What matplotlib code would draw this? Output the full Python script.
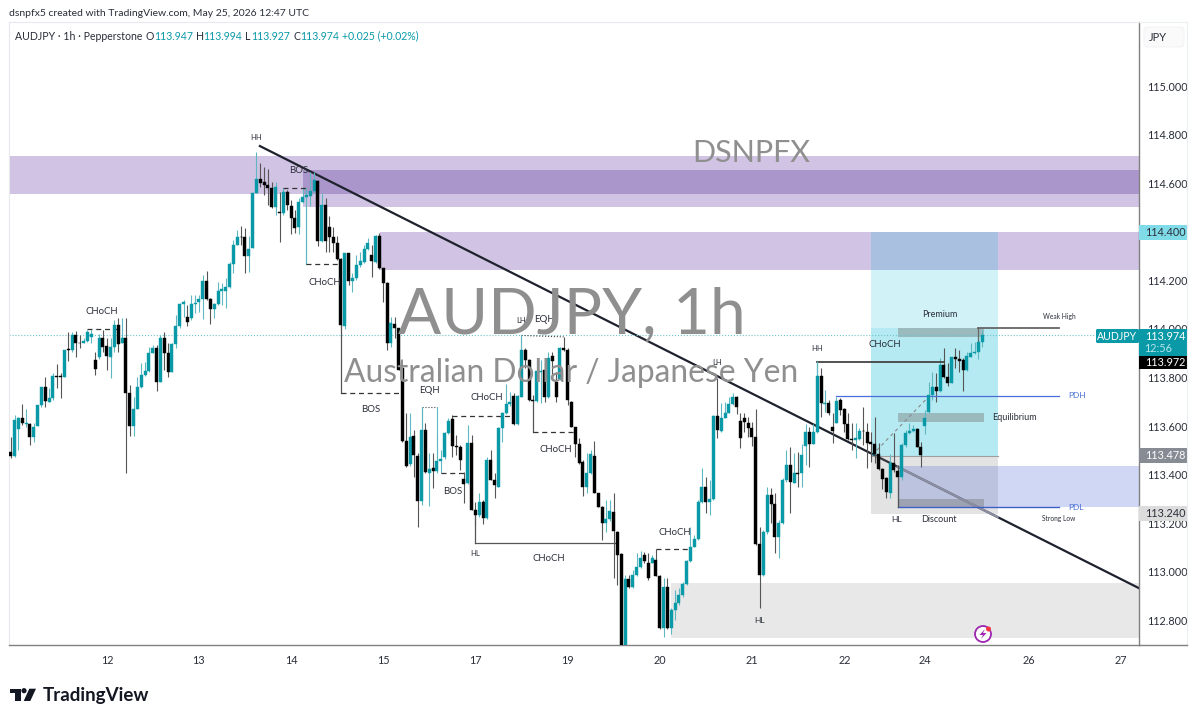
import matplotlib
matplotlib.use("Agg")
import matplotlib.pyplot as plt
from matplotlib.patches import Rectangle, Circle, Polygon, FancyBboxPatch
import numpy as np

plt.rcParams['font.family'] = ['Lato', 'DejaVu Sans']

# hourly candles
opens = [
    113.494, 113.476, 113.586, 113.631, 113.608, 113.607, 113.556, 113.600, 113.686, 113.762,
    113.700, 113.714, 113.807, 113.807, 113.800, 113.916, 113.913, 113.975, 113.943, 113.943,
    113.951, 113.968, 113.872, 113.885, 113.961, 113.929, 113.885, 113.924, 114.016, 113.940,
    113.961, 113.734, 113.600, 113.672, 113.759, 113.810, 113.828, 113.902, 113.920, 113.782,
    113.961, 113.902, 113.824, 113.938, 114.012, 114.102, 114.050, 114.043, 114.102, 114.111,
    114.122, 114.198, 114.122, 114.082, 114.102, 114.157, 114.157, 114.174, 114.266, 114.345,
    114.380, 114.377, 114.301, 114.334, 114.558, 114.616, 114.603, 114.592, 114.579, 114.500,
    114.483, 114.478, 114.565, 114.506, 114.455, 114.421, 114.524, 114.544, 114.548, 114.569,
    114.610, 114.362, 114.510, 114.418, 114.380, 114.352, 114.286, 114.012, 114.311, 114.198,
    114.208, 114.263, 114.277, 114.327, 114.304, 114.277, 114.382, 114.249, 114.187, 113.940,
    114.020, 114.002, 113.837, 113.539, 113.443, 113.558, 113.476, 113.292, 113.583, 113.405,
    113.425, 113.416, 113.457, 113.471, 113.572, 113.627, 113.519, 113.515, 113.383, 113.366,
    113.528, 113.254, 113.233, 113.288, 113.223, 113.460, 113.377, 113.350, 113.590, 113.652,
    113.690, 113.725, 113.608, 113.720, 113.913, 113.871, 113.707, 113.704, 113.823, 113.830,
    113.718, 113.888, 113.782, 113.792, 113.920, 113.915, 113.700, 113.594, 113.526, 113.453,
    113.350, 113.405, 113.476, 113.322, 113.265, 113.199, 113.215, 113.247, 113.164, 113.072,
    112.691, 112.968, 112.935, 112.986, 113.020, 113.068, 113.037, 113.037, 113.050, 112.982,
    112.766, 112.938, 112.766, 112.844, 112.872, 112.903, 112.949, 113.045, 113.103, 113.133,
    113.288, 113.350, 113.288, 113.298, 113.641, 113.580, 113.635, 113.655, 113.690, 113.718,
    113.622, 113.631, 113.611, 113.590, 113.553, 113.116, 112.986, 113.164, 113.315, 113.279,
    113.141, 113.199, 113.378, 113.439, 113.367, 113.406, 113.405, 113.519, 113.577, 113.526,
    113.577, 113.806, 113.691, 113.696, 113.597, 113.614, 113.707, 113.669, 113.608, 113.545,
    113.542, 113.545, 113.581, 113.577, 113.534, 113.524, 113.485, 113.422, 113.384, 113.325,
    113.449, 113.416, 113.391, 113.522, 113.573, 113.581, 113.588, 113.515, 113.600, 113.659,
    113.728, 113.759, 113.746, 113.851, 113.800, 113.778, 113.883, 113.875, 113.872, 113.831,
    113.886, 113.899, 113.906, 113.947,
]
closes = [
    113.476, 113.624, 113.631, 113.611, 113.611, 113.553, 113.597, 113.686, 113.759, 113.704,
    113.714, 113.807, 113.802, 113.803, 113.913, 113.913, 113.975, 113.943, 113.940, 113.951,
    113.986, 113.981, 113.836, 113.961, 113.927, 113.888, 113.924, 114.016, 113.936, 113.961,
    113.734, 113.600, 113.672, 113.759, 113.810, 113.828, 113.899, 113.920, 113.782, 113.961,
    113.902, 113.824, 113.938, 114.012, 114.102, 114.109, 114.030, 114.102, 114.108, 114.122,
    114.198, 114.122, 114.082, 114.102, 114.157, 114.163, 114.174, 114.266, 114.345, 114.380,
    114.377, 114.301, 114.327, 114.558, 114.616, 114.602, 114.592, 114.579, 114.500, 114.583,
    114.478, 114.562, 114.510, 114.458, 114.417, 114.524, 114.544, 114.551, 114.569, 114.613,
    114.362, 114.510, 114.362, 114.380, 114.352, 114.286, 114.016, 114.311, 114.198, 114.208,
    114.263, 114.279, 114.327, 114.352, 114.281, 114.382, 114.249, 114.187, 113.940, 114.023,
    114.002, 113.830, 113.539, 113.435, 113.556, 113.480, 113.292, 113.583, 113.409, 113.423,
    113.414, 113.457, 113.466, 113.572, 113.622, 113.517, 113.515, 113.460, 113.363, 113.531,
    113.256, 113.233, 113.288, 113.222, 113.460, 113.377, 113.357, 113.590, 113.652, 113.690,
    113.700, 113.608, 113.723, 113.913, 113.871, 113.707, 113.704, 113.828, 113.828, 113.718,
    113.882, 113.869, 113.718, 113.920, 113.913, 113.707, 113.597, 113.526, 113.446, 113.347,
    113.405, 113.484, 113.322, 113.267, 113.201, 113.215, 113.251, 113.168, 113.068, 112.691,
    112.968, 112.938, 112.986, 113.020, 113.055, 113.045, 112.972, 113.055, 112.982, 112.766,
    112.938, 112.766, 112.844, 112.872, 112.903, 112.949, 113.045, 113.103, 113.133, 113.288,
    113.350, 113.288, 113.298, 113.641, 113.583, 113.635, 113.655, 113.690, 113.720, 113.679,
    113.549, 113.617, 113.590, 113.553, 113.114, 112.986, 113.164, 113.315, 113.278, 113.141,
    113.199, 113.378, 113.439, 113.371, 113.405, 113.402, 113.481, 113.577, 113.526, 113.577,
    113.806, 113.693, 113.696, 113.655, 113.581, 113.704, 113.666, 113.608, 113.545, 113.542,
    113.549, 113.581, 113.578, 113.531, 113.526, 113.483, 113.422, 113.380, 113.330, 113.449,
    113.419, 113.391, 113.522, 113.573, 113.581, 113.588, 113.515, 113.481, 113.632, 113.728,
    113.759, 113.746, 113.851, 113.800, 113.778, 113.883, 113.875, 113.869, 113.831, 113.888,
    113.899, 113.906, 113.947, 113.974,
]
highs = [
    113.556, 113.645, 113.638, 113.690, 113.672, 113.611, 113.611, 113.686, 113.762, 113.803,
    113.755, 113.817, 113.854, 113.817, 113.913, 113.988, 113.988, 113.991, 113.975, 113.961,
    113.995, 113.995, 113.906, 113.979, 113.995, 113.961, 113.961, 114.036, 114.043, 114.043,
    114.043, 113.769, 113.721, 113.803, 113.858, 113.865, 113.927, 113.933, 113.933, 113.975,
    113.988, 113.940, 113.940, 114.057, 114.105, 114.119, 114.098, 114.139, 114.139, 114.139,
    114.222, 114.240, 114.126, 114.108, 114.194, 114.187, 114.208, 114.277, 114.366, 114.407,
    114.424, 114.414, 114.382, 114.565, 114.730, 114.682, 114.665, 114.657, 114.606, 114.606,
    114.565, 114.579, 114.572, 114.531, 114.489, 114.538, 114.579, 114.579, 114.647, 114.647,
    114.613, 114.558, 114.538, 114.465, 114.421, 114.382, 114.290, 114.314, 114.314, 114.229,
    114.304, 114.318, 114.345, 114.373, 114.345, 114.387, 114.396, 114.252, 114.194, 114.050,
    114.050, 114.005, 113.841, 113.652, 113.652, 113.583, 113.487, 113.679, 113.611, 113.487,
    113.487, 113.569, 113.501, 113.576, 113.631, 113.645, 113.563, 113.521, 113.412, 113.604,
    113.563, 113.288, 113.322, 113.295, 113.473, 113.501, 113.405, 113.597, 113.659, 113.773,
    113.741, 113.734, 113.727, 113.974, 113.920, 113.874, 113.727, 113.865, 113.871, 113.858,
    113.906, 113.906, 113.823, 113.926, 113.968, 113.920, 113.704, 113.597, 113.549, 113.460,
    113.487, 113.501, 113.539, 113.322, 113.270, 113.295, 113.295, 113.322, 113.168, 113.075,
    112.986, 112.986, 113.006, 113.075, 113.086, 113.082, 113.075, 113.068, 113.092, 112.986,
    112.972, 112.972, 112.849, 112.924, 112.931, 112.958, 113.050, 113.182, 113.151, 113.295,
    113.425, 113.391, 113.377, 113.645, 113.796, 113.696, 113.700, 113.720, 113.737, 113.723,
    113.652, 113.652, 113.638, 113.617, 113.672, 113.185, 113.171, 113.350, 113.343, 113.323,
    113.213, 113.384, 113.501, 113.515, 113.487, 113.494, 113.526, 113.608, 113.597, 113.608,
    113.858, 113.838, 113.748, 113.707, 113.652, 113.721, 113.714, 113.673, 113.652, 113.611,
    113.611, 113.590, 113.680, 113.611, 113.577, 113.636, 113.529, 113.426, 113.389, 113.485,
    113.570, 113.439, 113.529, 113.584, 113.611, 113.604, 113.590, 113.535, 113.666, 113.783,
    113.824, 113.817, 113.879, 113.920, 113.858, 113.886, 113.920, 113.913, 113.879, 113.906,
    113.940, 113.947, 113.982, 113.994,
]
lows = [
    113.467, 113.473, 113.501, 113.604, 113.597, 113.521, 113.535, 113.600, 113.679, 113.679,
    113.700, 113.707, 113.755, 113.714, 113.800, 113.869, 113.906, 113.883, 113.920, 113.940,
    113.947, 113.940, 113.810, 113.878, 113.906, 113.830, 113.796, 113.906, 113.906, 113.940,
    113.405, 113.559, 113.559, 113.672, 113.755, 113.806, 113.824, 113.899, 113.745, 113.780,
    113.830, 113.803, 113.824, 113.920, 114.002, 114.050, 114.012, 114.036, 114.067, 114.071,
    114.039, 114.119, 114.020, 114.043, 114.098, 114.098, 114.084, 114.167, 114.229, 114.345,
    114.345, 114.229, 114.235, 114.332, 114.558, 114.583, 114.551, 114.510, 114.496, 114.469,
    114.359, 114.469, 114.489, 114.391, 114.393, 114.391, 114.517, 114.538, 114.506, 114.558,
    114.343, 114.359, 114.318, 114.318, 114.318, 114.283, 114.009, 113.998, 114.181, 114.153,
    114.201, 114.256, 114.273, 114.325, 114.215, 114.273, 114.245, 114.112, 113.913, 113.927,
    113.961, 113.830, 113.535, 113.432, 113.435, 113.391, 113.182, 113.274, 113.407, 113.270,
    113.343, 113.407, 113.405, 113.466, 113.569, 113.473, 113.480, 113.418, 113.281, 113.363,
    113.254, 113.192, 113.226, 113.196, 113.219, 113.377, 113.302, 113.347, 113.535, 113.649,
    113.682, 113.604, 113.604, 113.718, 113.837, 113.704, 113.700, 113.700, 113.693, 113.700,
    113.714, 113.789, 113.700, 113.789, 113.910, 113.686, 113.594, 113.473, 113.443, 113.311,
    113.322, 113.402, 113.322, 113.265, 113.130, 113.164, 113.210, 112.972, 112.945, 112.691,
    112.691, 112.931, 112.931, 112.982, 113.017, 113.037, 112.965, 113.034, 112.982, 112.762,
    112.729, 112.762, 112.743, 112.801, 112.862, 112.897, 112.945, 113.041, 113.103, 113.130,
    113.284, 113.240, 113.233, 113.295, 113.549, 113.576, 113.631, 113.652, 113.686, 113.649,
    113.508, 113.576, 113.556, 113.517, 113.109, 112.849, 112.982, 113.157, 113.199, 113.075,
    113.055, 113.196, 113.371, 113.240, 113.367, 113.350, 113.347, 113.439, 113.432, 113.526,
    113.573, 113.636, 113.659, 113.645, 113.529, 113.611, 113.645, 113.577, 113.542, 113.501,
    113.467, 113.542, 113.522, 113.426, 113.453, 113.446, 113.419, 113.339, 113.302, 113.302,
    113.412, 113.268, 113.378, 113.515, 113.567, 113.577, 113.512, 113.433, 113.567, 113.652,
    113.707, 113.700, 113.741, 113.796, 113.765, 113.776, 113.838, 113.824, 113.746, 113.828,
    113.883, 113.897, 113.875, 113.927,
]

price_ticks = [115.0, 114.8, 114.6, 114.4, 114.2, 114.0, 113.8, 113.6, 113.4, 113.2, 113.0, 112.8]
day_ticks = [25.1, 49, 73, 97, 121, 145, 169, 193, 217.2, 238, 265, 289]
day_labels = ['12', '13', '14', '15', '17', '19', '20', '21', '22', '24', '26', '27']

# text labels on the chart: text, bar, price, size, colour
notes = [
    ('CHoCH', 23.8, 114.073, 6.9, '#2a2e39'), ('HH', 63.9, 114.790, 5.5, '#2a2e39'),
    ('BOS', 75.1, 114.654, 6.9, '#2a2e39'), ('CHoCH', 81.9, 114.193, 6.9, '#2a2e39'),
    ('BOS', 93.8, 113.666, 6.9, '#2a2e39'), ('EQH', 109.0, 113.748, 6.9, '#2a2e39'),
    ('LH', 132.9, 114.036, 5.5, '#2a2e39'), ('EQH', 138.9, 114.040, 6.9, '#2a2e39'),
    ('CHoCH', 124.0, 113.719, 6.9, '#2a2e39'), ('BOS', 115.0, 113.332, 6.9, '#2a2e39'),
    ('CHoCH', 142.0, 113.505, 6.9, '#2a2e39'), ('HL', 121.0, 113.073, 5.5, '#2a2e39'),
    ('CHoCH', 140.2, 113.056, 6.9, '#2a2e39'), ('CHoCH', 173.0, 113.163, 6.9, '#2a2e39'),
    ('LH', 184.0, 113.863, 5.5, '#2a2e39'), ('HH', 210.0, 113.921, 5.5, '#2a2e39'),
    ('CHoCH', 227.7, 113.937, 6.9, '#2a2e39'), ('Premium', 242.0, 114.061, 6.5, '#2a2e39'),
    ('Weak High', 273.0, 114.053, 4.8, '#2a2e39'), ('PDH', 277.7, 113.727, 6, '#4a6fd8'),
    ('Equilibrium', 261.3, 113.637, 6.5, '#2a2e39'), ('PDL', 277.4, 113.266, 6, '#4a6fd8'),
    ('Strong Low', 273.0, 113.221, 4.8, '#2a2e39'), ('HL', 230.8, 113.213, 6, '#2a2e39'),
    ('Discount', 241.8, 113.213, 6.5, '#2a2e39'), ('HL', 195.0, 112.797, 6, '#2a2e39'),
]

TEAL = '#0a99a6'
x = np.arange(len(opens))
o = np.array(opens)
c = np.array(closes)
up = c >= o
colors = np.where(up, TEAL, '#000000')
wick_colors = np.where(up, '#5fb8c1', '#555555')

fig = plt.figure(figsize=(12, 7.21), dpi=100)
ax = fig.add_axes([9/1200, 1-645/721, 1130/1200, 623/721])
ax.set_xlim(-0.44, 293.8)
ax.set_ylim(112.698, 115.264)

# purple and grey zones
ax.axhspan(114.555, 114.712, color='#d0c3e3', lw=0, zorder=0)
ax.fill_between([76, 293.8], 114.502, 114.654, color='#d0c3e3', lw=0, zorder=0)
ax.fill_between([76, 293.8], 114.555, 114.654, color='#aa96cb', lw=0, zorder=0.1)
ax.fill_between([96.2, 293.8], 114.242, 114.399, color='#d0c3e3', lw=0, zorder=0)
ax.fill_between([172, 293.8], 112.726, 112.953, color='#e8e8e8', lw=0, zorder=0)

# trend line goes under the long box, as in the picture
ax.plot([64.9, 293.8], [114.753, 112.932], color='#1e222d', lw=1.6, zorder=1)

# long position box
ax.fill_between([224, 257], 114.003, 114.399, color='#00b7d4', alpha=0.18, lw=0, zorder=2)
ax.fill_between([224, 257], 113.476, 114.003, color='#00b7d4', alpha=0.29, lw=0, zorder=2)
ax.fill_between([224, 257], 113.237, 113.476, color='#808080', alpha=0.22, lw=0, zorder=2)
ax.plot([224, 257], [113.476, 113.476], color='#9e9e9e', lw=0.8, zorder=2)
ax.fill_between([231, 293.8], 113.266, 113.435, color='#5472d8', alpha=0.28, lw=0, zorder=2.1)
for lo, hi in [(113.966, 114.003), (113.616, 113.653), (113.262, 113.299)]:
    ax.fill_between([231, 253.4], lo, hi, color='#787878', alpha=0.42, lw=0, zorder=2.2)

# the stretch of the trend line seen through the blue and grey boxes looks washed out
ax.plot([231, 257], [113.432, 113.225], color='#8d8fa3', lw=1.6, zorder=2.3)

ax.plot([-0.44, 293.8], [113.974, 113.974], color='#6fc4cd', lw=0.8, ls=':', zorder=2.5)

# candles
ax.vlines(x, lows, highs, colors=wick_colors, lw=0.8, zorder=3)
ax.bar(x, np.abs(c-o), bottom=np.minimum(o, c), width=0.78, color=colors, lw=0.3, edgecolor=colors, zorder=3.1)

# structure lines
GR = '#555555'
solid = dict(color=GR, lw=0.9, zorder=3)
dash = dict(color='#333333', lw=0.9, ls=(0, (4, 3)), zorder=3)
dots = dict(color='#444444', lw=0.8, ls=':', zorder=3)
ax.plot([20, 27.7], [113.999, 113.999], **dash)
ax.plot([71, 77], [114.579, 114.579], **dash)
ax.plot([77, 77], [114.579, 114.267], color='#5fb8c1', lw=0.9, zorder=3)
ax.plot([77, 86], [114.266, 114.266], **dash)
ax.plot([86, 86], [114.016, 113.734], **solid)
ax.plot([86, 102], [113.734, 113.734], **dash)
ax.plot([107.2, 111], [113.679, 113.679], **dots)
ax.plot([107.2, 107.2], [113.679, 113.58], color='#5fb8c1', lw=0.8, zorder=3)
ax.plot([111, 111], [113.679, 113.45], color='#5fb8c1', lw=0.8, zorder=3)
ax.plot([112, 118], [113.405, 113.405], **dash)
ax.plot([115, 131], [113.642, 113.642], **dash)
ax.plot([133, 144], [113.973, 113.967], **dots)
ax.plot([133, 133], [113.973, 113.913], color='#5fb8c1', lw=0.8, zorder=3)
ax.plot([136, 136], [113.707, 113.575], **solid)
ax.plot([136, 147], [113.575, 113.575], **dash)
ax.plot([121, 121], [113.254, 113.120], **solid)
ax.plot([121, 158], [113.120, 113.120], **solid)
ax.plot([168, 177], [113.092, 113.092], **dash)
ax.plot([210, 243], [113.865, 113.865], color='#444444', lw=1.3, zorder=3)
ax.plot([210, 210], [113.865, 113.806], color='#5fb8c1', lw=0.9, zorder=3)
ax.plot([215, 273], [113.722, 113.722], color='#4a6fd8', lw=0.9, zorder=3)
ax.plot([231, 273], [113.265, 113.265], color='#3f5fc8', lw=1.0, zorder=3)
ax.plot([231, 231], [113.435, 113.265], color='#555555', lw=0.9, zorder=3)
ax.plot([252, 273], [114.004, 114.004], color='#666666', lw=1.3, zorder=3)
ax.plot([252, 252], [114.004, 113.947], color='#666666', lw=0.9, zorder=3)
ax.plot([225.5, 239], [113.50, 113.72], color='#888888', lw=0.8, ls=(0, (3, 3)), zorder=3)

for text, bx, py, size, col in notes:
    ax.text(bx, py, text, fontsize=size, color=col, ha='center', va='center', zorder=4)

# symbol watermark
ax.text(192.8, 114.725, 'DSNPFX', fontsize=22, color='#8f8f8f', ha='center', va='center', zorder=4)
ax.text(146.0, 114.054, 'AUDJPY, 1h', fontsize=46, color='#8f8f8f', ha='center', va='center', zorder=4)
ax.text(146.0, 113.82, 'Australian Dollar / Japanese Yen', fontsize=22.9, color='#8f8f8f', ha='center', va='center', zorder=4)

ax.yaxis.tick_right()
ax.set_yticks(price_ticks)
ax.set_yticklabels(['%.3f' % p for p in price_ticks])
ax.set_xticks(day_ticks)
ax.set_xticklabels(day_labels)
ax.tick_params(axis='both', length=0, labelsize=7.8, labelcolor='#2a2e39')
ax.tick_params(axis='y', pad=6)
ax.tick_params(axis='x', pad=7)
for side in ['top', 'left']:
    ax.spines[side].set_color('#e6e8ee')
    ax.spines[side].set_linewidth(0.8)
for side in ['right', 'bottom']:
    ax.spines[side].set_color('#808080')
    ax.spines[side].set_linewidth(1.0)

# everything round the plot is laid out in picture pixels
top = fig.add_axes([0, 0, 1, 1], zorder=10)
top.set_xlim(0, 1200)
top.set_ylim(721, 0)
top.axis('off')

top.plot([1139, 1187, 1187], [22, 22, 645], color='#eceef2', lw=0.8)
top.plot([1139, 1187], [645, 645], color='#808080', lw=1.0)
top.add_patch(FancyBboxPatch((1144, 27), 40, 20, boxstyle='round,pad=0,rounding_size=3', fc='#fafafa', ec='#f0f1f4', lw=0.6))
top.text(1158, 37.5, 'JPY', fontsize=8, color='#2a2e39', ha='center', va='center')

top.text(9, 13, 'dsnpfx5 created with TradingView.com, May 25, 2026 12:47 UTC', fontsize=7.45, color='#2a2e39', va='center')
top.text(15, 36, 'AUDJPY · 1h · Pepperstone', fontsize=7.6, color='#2a2e39', va='center')
for px, s in [(146, 'O'), (196, 'H'), (245, 'L'), (293, 'C')]:
    top.text(px, 36, s, fontsize=7.6, color='#2a2e39', va='center')
for px, s in [(154, '113.947'), (203, '113.994'), (251, '113.927'), (300, '113.974'), (342, '+0.025 (+0.02%)')]:
    top.text(px, 36, s, fontsize=7.6, color=TEAL, va='center')

# price tags on the right scale
def tag(y0, y1, col, s, txt='white', x0=1139, x1=1187, tx=1165):
    top.add_patch(Rectangle((x0, y0), x1-x0, y1-y0, fc=col, ec='none'))
    if s:
        top.text(tx, (y0+y1)/2+0.3, s, fontsize=7.8, color=txt, ha='center', va='center')

tag(225, 240, '#7fdbe8', '114.400', '#2a2e39')
tag(329, 356, TEAL, '')
top.text(1165, 336.5, '113.974', fontsize=7.8, color='white', ha='center', va='center')
top.text(1158, 348.5, '12:56', fontsize=7.8, color='#b5e6ec', ha='center', va='center')
tag(356, 369, '#000000', '113.972')
tag(448, 463, '#878b94', '113.478')
tag(506, 521, '#dcdcdc', '113.240', '#2a2e39')
top.add_patch(FancyBboxPatch((1096, 329), 43, 14, boxstyle='round,pad=0,rounding_size=1.5', fc=TEAL, ec='none'))
top.text(1117, 336.5, 'AUDJPY', fontsize=7.6, color='white', ha='center', va='center')

# lightning marker
top.add_patch(Circle((983, 634), 8, fc='white', ec='#9c27b0', lw=1.3))
top.add_patch(Polygon([(985, 629), (979.5, 635), (983, 635), (981, 639), (986.5, 633), (983, 633)], fc='#9c27b0', ec='none'))
top.add_patch(Circle((988.5, 629), 2.5, fc='#f23645', ec='none'))

# TradingView logo
top.add_patch(Polygon([(10, 688.7), (20.7, 688.7), (20.7, 701), (14.7, 701), (14.7, 692.5), (10, 692.5)], fc='#131722', ec='none'))
top.add_patch(Circle((24, 690.7), 2.6, fc='#131722', ec='none'))
top.add_patch(Polygon([(29.3, 688.7), (36, 688.7), (30.3, 701), (23.7, 701)], fc='#131722', ec='none'))
top.text(43, 695, 'TradingView', fontsize=13.5, fontweight='bold', color='#131722', va='center')

plt.savefig('out.png', dpi=100)
